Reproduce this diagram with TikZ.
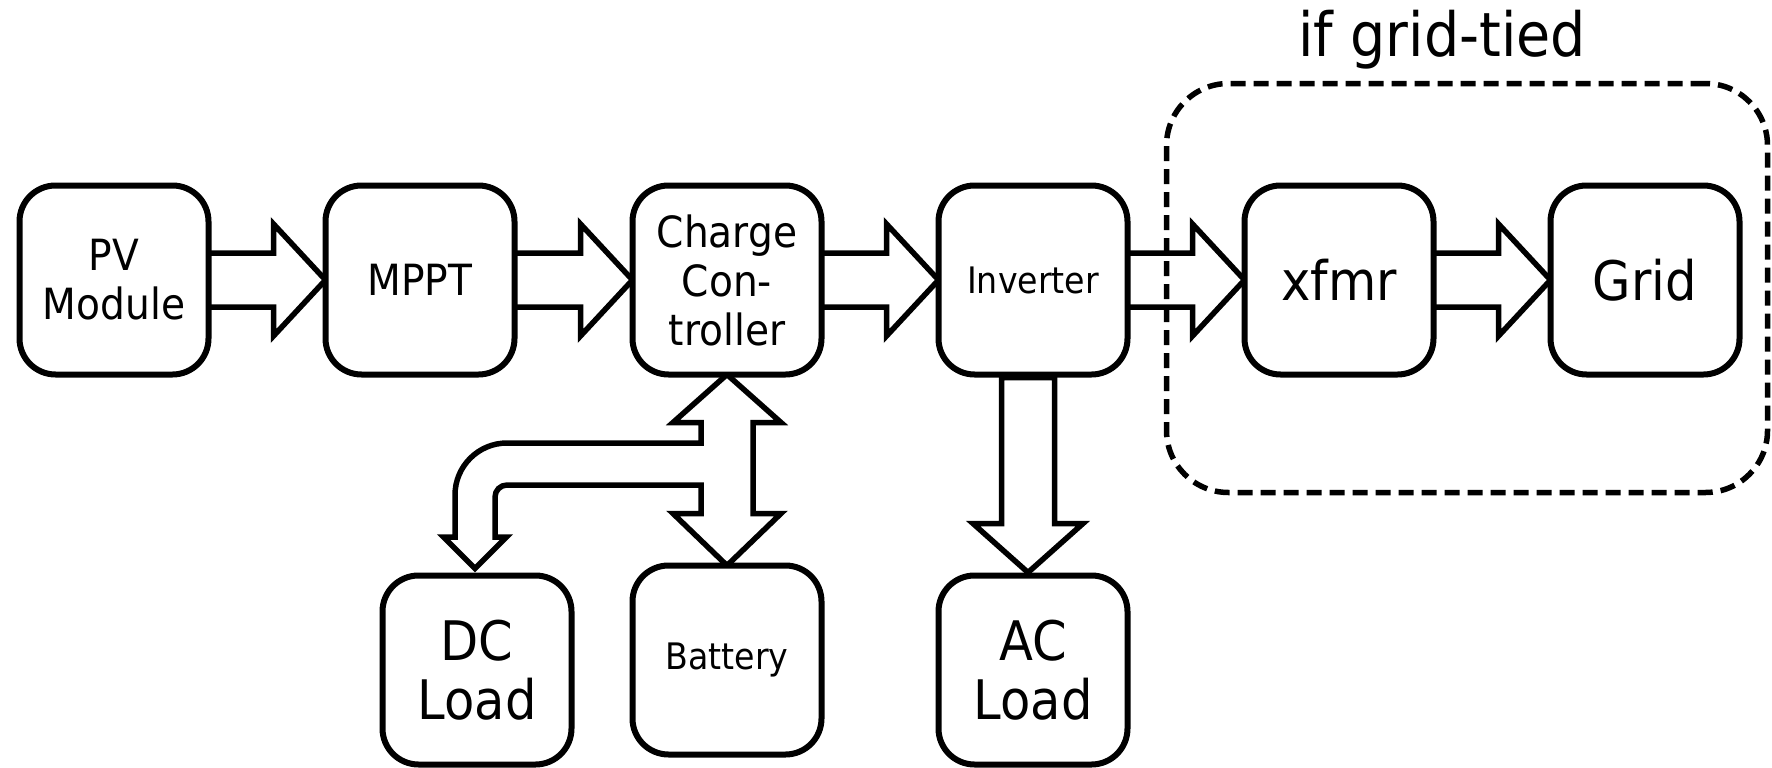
\documentclass[tikz,border=0pt]{standalone}
\usepackage{fontspec}
\setmainfont{DejaVu Sans}[FakeStretch=0.91]
\usetikzlibrary{calc}
\pgfdeclarelayer{bg}
\pgfsetlayers{bg,main}
\tikzset{
  blk/.style={draw, line width=6pt, rounded corners=36pt, fill=white,
    minimum width=189pt, minimum height=189pt, inner sep=0pt, outer sep=0pt, align=center},
  fsmall/.style={font=\fontsize{36.5}{42}\selectfont},
  fmed/.style={font=\fontsize{43}{49}\selectfont},
  flarge/.style={font=\fontsize{54.5}{59}\selectfont},
  ftitle/.style={font=\fontsize{61}{67}\selectfont},
  bigarrow/.style={draw, fill=white, line width=5.5pt, line join=miter, miter limit=10},
  grpbox/.style={draw, line width=5.5pt, dash pattern=on 15pt off 8pt, rounded corners=62pt,
    minimum width=601pt, minimum height=409pt, inner sep=0pt, outer sep=0pt}
}
\newcommand\harr[2]{%
  \draw[bigarrow] ($(#1.east)+(0,-27)$) -- ($(#2.west)+(-52,-27)$) -- ($(#2.west)+(-52,-56)$)
    -- (#2.west) -- ($(#2.west)+(-52,56)$) -- ($(#2.west)+(-52,27)$) -- ($(#1.east)+(0,27)$);
}
\begin{document}
\begin{tikzpicture}[x=1pt,y=-1pt]
\useasboundingbox (0,0) rectangle (1772,768);
\node[blk,fmed] (pv) at (114,280) {PV\\Module};
\node[blk,fmed] (mppt) at (420,280) {MPPT};
\node[blk,fmed] (cc) at (727,280) {Charge\\Con-\\troller};
\node[blk,fsmall] (inv) at (1033,280) {Inverter};
\node[blk,flarge] (xf) at (1339,280) {xfmr};
\node[blk,flarge] (grid) at (1645,280) {Grid};
\node[blk,flarge] (dcl) at (477,670) {DC\\Load};
\node[blk,fsmall] (bat) at (727,660) {Battery};
\node[blk,flarge] (acl) at (1033,670) {AC\\Load};
\begin{pgfonlayer}{bg}
\harr{pv}{mppt}
\harr{mppt}{cc}
\harr{cc}{inv}
\harr{inv}{xf}
\harr{xf}{grid}
% inverter -> AC load
\draw[bigarrow] ($(inv.south)+(-31.5,3)$) -- ($(acl.north)+(-31.5,-52)$) -- ($(acl.north)+(-60,-52)$)
  -- ($(acl.north)+(-5,-3)$) -- ($(acl.north)+(50,-52)$) -- ($(acl.north)+(21.5,-52)$)
  -- ($(inv.south)+(21.5,3)$) -- cycle;
% charge controller <-> battery, branch to DC load
\coordinate (C) at (cc.south);
\coordinate (B) at (bat.north);
\coordinate (D) at (dcl.north);
\draw[bigarrow] (C) -- ($(C)+(54,48)$) -- ($(C)+(26,48)$) -- ($(B)+(26,-52)$) -- ($(B)+(54,-52)$)
  -- (B) -- ($(B)+(-54,-52)$) -- ($(B)+(-26,-52)$) -- ($(C)+(-26,110.5)$)
  -- ($(D)+(30,-90.5)$) .. controls ($(D)+(23.4,-90.5)$) and ($(D)+(18,-85.1)$) .. ($(D)+(18,-78.5)$)
  -- ($(D)+(18,-38.5)$) -- ($(D)+(29.5,-38.5)$) -- ($(D)+(-2,-7)$) -- ($(D)+(-33.5,-38.5)$)
  -- ($(D)+(-22,-38.5)$) -- ($(D)+(-22,-80.5)$)
  .. controls ($(D)+(-22,-109.2)$) and ($(D)+(1.3,-132.5)$) .. ($(D)+(30,-132.5)$)
  -- ($(C)+(-26,68.5)$) -- ($(C)+(-26,48)$) -- ($(C)+(-54,48)$) -- cycle;
\end{pgfonlayer}
\node[grpbox] (grp) at (1467,288) {};
\node[ftitle, anchor=base] (ttl) at (1442,57) {if grid-tied};
\end{tikzpicture}
\end{document}
